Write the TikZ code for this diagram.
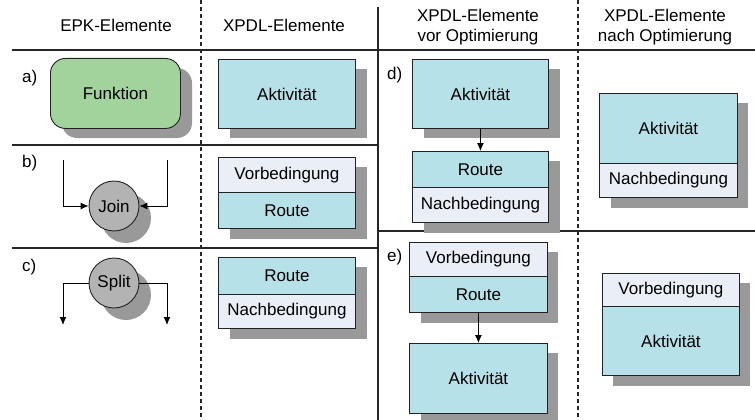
\documentclass[tikz,border=0pt]{standalone}
\usepackage{fontspec}
\setmainfont{Liberation Sans}
\usetikzlibrary{arrows.meta}
\definecolor{gfill}{HTML}{A3D39C}
\definecolor{cfill}{HTML}{B7E1E8}
\definecolor{lfill}{HTML}{E9EEF7}
\definecolor{cgray}{HTML}{B3B3B3}
\definecolor{sgray}{HTML}{999999}
\definecolor{bord}{HTML}{222222}
\tikzset{
  lbl/.style={font=\fontsize{17pt}{20.5pt}\selectfont, inner sep=0pt},
  box/.style={draw=bord, line width=0.9pt, inner sep=0pt, anchor=north west,
    font=\fontsize{17pt}{20.5pt}\selectfont},
  act/.style={box, fill=cfill},
  cond/.style={box, fill=lfill},
  shade/.style={fill=sgray},
  sep/.style={line width=1.1pt, draw=black!85},
  dsep/.style={line width=1.1pt, draw=black!85, dash pattern=on 4pt off 3pt},
  arr/.style={line width=1pt, -{Latex[length=8pt,width=7pt]}},
  circ/.style={circle, draw=bord, line width=0.9pt, fill=cgray, minimum size=50pt, inner sep=0pt,
    font=\fontsize{17pt}{20.5pt}\selectfont}
}
\begin{document}
\begin{tikzpicture}[x=1pt,y=-1pt]
\useasboundingbox (0,0) rectangle (755,420);
% headers
\node[lbl] (h1) at (116,25) {EPK-Elemente};
\node[lbl] (h2) at (284,25) {XPDL-Elemente};
\node[lbl, align=center] (h3) at (478,27) {XPDL-Elemente\\vor Optimierung};
\node[lbl, align=center] (h4) at (665,27) {XPDL-Elemente\\nach Optimierung};
% separators
\draw[sep] (12,50) -- (755,50);
\draw[sep] (12,145) -- (378,145);
\draw[sep] (12,248) -- (378,248);
\draw[sep] (378,231) -- (755,231);
\draw[sep] (378,7) -- (378,420);
\draw[dsep] (201,0) -- (201,420);
\draw[dsep] (578,0) -- (578,420);
% row labels
\node[lbl, anchor=west] (la) at (22,78) {a)};
\node[lbl, anchor=west] (lb) at (22,163) {b)};
\node[lbl, anchor=west] (lc) at (22,267) {c)};
\node[lbl, anchor=west] (ld) at (387,75) {d)};
\node[lbl, anchor=west] (le) at (387,257) {e)};
% shadows
\fill[shade, rounded corners=15pt] (62,68) rectangle (192,138);
\fill[shade] (230,69) rectangle (367,138);
\fill[shade] (230,167) rectangle (367,239);
\fill[shade] (230,267) rectangle (367,339);
\fill[shade] (424,69) rectangle (560,138);
\fill[shade] (424,161) rectangle (560,233);
\fill[shade] (611,103) rectangle (748,208);
\fill[shade] (421,252) rectangle (558,323);
\fill[shade] (421,353) rectangle (558,420);
\fill[shade] (613,283) rectangle (750,386);
\fill[shade] (126,218) circle (25pt);
\fill[shade] (126,295) circle (25pt);
% a)
\node[box, fill=gfill, rounded corners=15pt, minimum width=130pt, minimum height=70pt] (fkt) at (50,58) {Funktion};
\node[act, minimum width=137pt, minimum height=69pt] (akta) at (218,59) {Aktivität};
% b)
\node[circ] (join) at (114,206) {Join};
\coordinate (jl) at (63,160);
\coordinate (jr) at (167,160);
\draw[arr] (jl) |- (join.west);
\draw[arr] (jr) |- (join.east);
\node[cond, minimum width=137pt, minimum height=35pt] (vb) at (218,157) {Vorbedingung};
\node[act, minimum width=137pt, minimum height=36pt] (rb) at (218,192) {Route};
% c)
\node[circ] (split) at (114,283) {Split};
\coordinate (sl) at (63,325);
\coordinate (sr) at (167,325);
\draw[arr] (split.west) -| (sl);
\draw[arr] (split.east) -| (sr);
\node[act, minimum width=137pt, minimum height=37pt] (rc) at (218,257) {Route};
\node[cond, minimum width=137pt, minimum height=34pt] (nc) at (218,294) {Nachbedingung};
% d) before
\node[act, minimum width=136pt, minimum height=69pt] (ad) at (412,59) {Aktivität};
\node[act, minimum width=136pt, minimum height=36pt] (rd) at (412,151) {Route};
\node[cond, minimum width=136pt, minimum height=35pt] (nd) at (412,187) {Nachbedingung};
\draw[arr] (ad.south) -- (rd.north);
% d) after
\node[act, minimum width=138pt, minimum height=70pt] (ad2) at (599,93) {Aktivität};
\node[cond, minimum width=138pt, minimum height=34pt] (nd2) at (599,163) {Nachbedingung};
% e) before
\node[cond, minimum width=138pt, minimum height=34pt] (ve) at (409,242) {Vorbedingung};
\node[act, minimum width=138pt, minimum height=36pt] (re) at (409,276) {Route};
\node[act, minimum width=138pt, minimum height=70pt] (ae) at (409,343) {Aktivität};
\draw[arr] (re.south) -- (ae.north);
% e) after
\node[cond, minimum width=137pt, minimum height=33pt] (ve2) at (602,273) {Vorbedingung};
\node[act, minimum width=137pt, minimum height=69pt] (ae2) at (602,306) {Aktivität};
\end{tikzpicture}
\end{document}
